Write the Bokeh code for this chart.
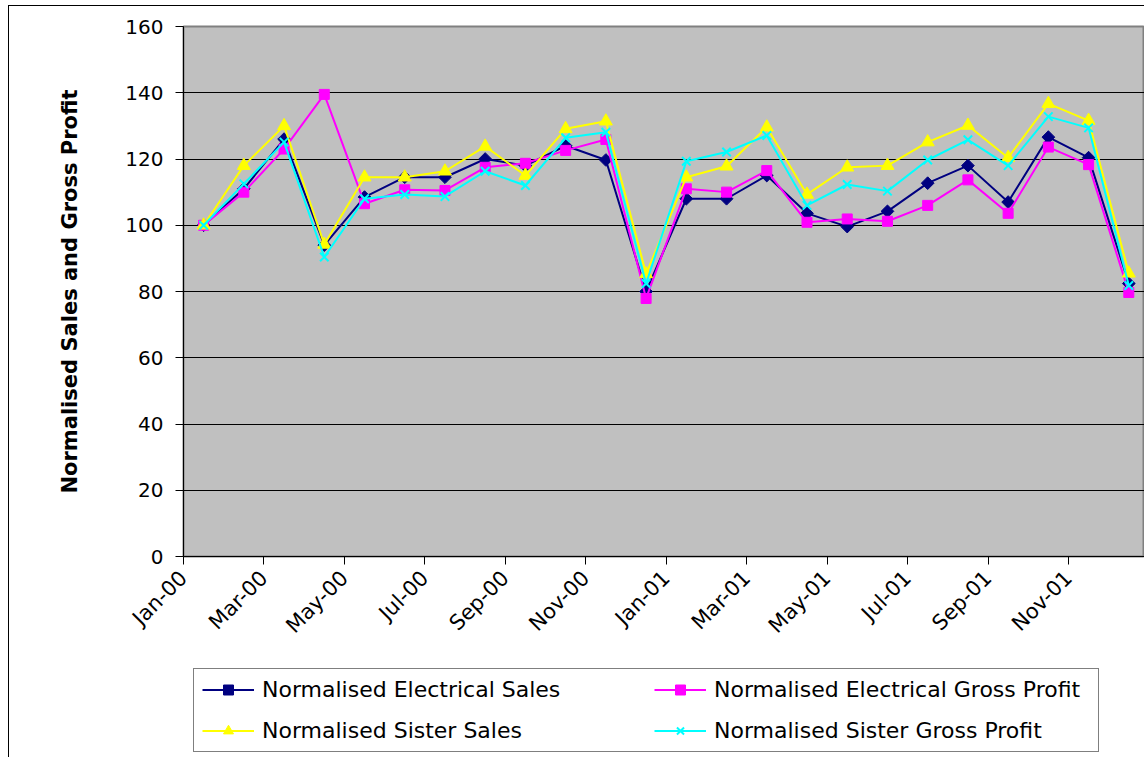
import math
from bokeh.plotting import figure
from bokeh.layouts import column
from bokeh.models import FixedTicker, Legend, LegendItem, Range1d, ColumnDataSource
from bokeh.embed import file_html
from bokeh.resources import INLINE

months = ["Jan-00", "Feb-00", "Mar-00", "Apr-00", "May-00", "Jun-00", "Jul-00", "Aug-00",
          "Sep-00", "Oct-00", "Nov-00", "Dec-00", "Jan-01", "Feb-01", "Mar-01", "Apr-01",
          "May-01", "Jun-01", "Jul-01", "Aug-01", "Sep-01", "Oct-01", "Nov-01", "Dec-01"]

elec_sales = [100, 111, 126, 94, 108.5, 114.5, 114.5, 120, 118, 124, 119.7, 80,
              108, 108, 115, 103.6, 99.6, 104.2, 112.7, 118, 107, 126.6, 120.4, 82.4]
elec_gp = [100, 110, 123, 139.5, 106.5, 110.7, 110.5, 117.5, 118.7, 122.6, 125.9, 77.9,
           111, 110, 116.5, 100.9, 101.9, 101.2, 106, 113.7, 103.6, 123.6, 118.3, 79.7]
sister_sales = [100, 118, 130, 94.2, 114.5, 114.5, 116.3, 123.8, 115, 129.1, 131.4, 85.3,
                114.5, 117.8, 129.6, 109.3, 117.5, 118, 125.1, 130.1, 120.4, 136.7, 131.6, 85.5]
sister_gp = [100, 112.5, 125.1, 90.4, 108, 109.3, 108.7, 116.3, 112, 126.4, 128.1, 82.4,
             119.3, 122.1, 127.1, 106, 112.3, 110.3, 119.7, 125.8, 118, 132.8, 129.4, 81.8]

series_names = ["Normalised Electrical Sales", "Normalised Electrical Gross Profit",
                "Normalised Sister Sales", "Normalised Sister Gross Profit"]

tick_labels = ["Jan-00", "Mar-00", "May-00", "Jul-00", "Sep-00", "Nov-00",
               "Jan-01", "Mar-01", "May-01", "Jul-01", "Sep-01", "Nov-01"]
y_ticks = [0, 20, 40, 60, 80, 100, 120, 140, 160]

FONT = "DejaVu Sans"

# style of each series: (column, colour, marker, size, angle)
styles = [("es", "#000080", "square", 9, math.pi / 4),
          ("egp", "#FF00FF", "square", 10, 0.0),
          ("ss", "#FFFF00", "triangle", 13, 0.0),
          ("sgp", "#00FFFF", "x", 12, 0.0)]

# month i is centred in its slot: x = i + 0.5
xs = [i + 0.5 for i in range(len(months))]
src = ColumnDataSource(dict(x=xs, es=elec_sales, egp=elec_gp, ss=sister_sales, sgp=sister_gp))


def add_series(fig, col, color, marker, size, angle):
    lr = fig.line("x", col, source=src, line_color=color, line_width=2)
    if marker == "x":
        sr = fig.scatter("x", col, source=src, marker=marker, size=size,
                         line_color=color, line_width=2)
    else:
        sr = fig.scatter("x", col, source=src, marker=marker, size=size, angle=angle,
                         fill_color=color, line_color=color)
    return lr, sr


# ---------------- main chart ----------------
p = figure(width=1135, height=655,
           output_backend="svg", toolbar_location=None,
           x_range=Range1d(0, 23.89), y_range=Range1d(0, 160),
           min_border_left=174, min_border_right=0, min_border_top=20, min_border_bottom=105)

p.background_fill_color = "#C0C0C0"
p.border_fill_color = "white"
p.outline_line_color = "#808080"
p.outline_line_width = 2

p.xgrid.visible = False
p.ygrid.ticker = FixedTicker(ticks=[20, 40, 60, 80, 100, 120, 140])
p.ygrid.grid_line_color = "black"
p.ygrid.grid_line_width = 1

p.yaxis.ticker = FixedTicker(ticks=y_ticks)
p.yaxis.axis_line_color = "black"
p.yaxis.major_tick_line_color = "black"
p.yaxis.major_tick_out = 8
p.yaxis.major_tick_in = 0
p.yaxis.minor_tick_line_color = None
p.yaxis.major_label_text_font = FONT
p.yaxis.major_label_text_font_size = "20px"
p.yaxis.major_label_text_color = "black"
p.yaxis.major_label_standoff = 12
p.yaxis.axis_label = "Normalised Sales and Gross Profit"
p.yaxis.axis_label_text_font = FONT
p.yaxis.axis_label_text_font_style = "bold"
p.yaxis.axis_label_text_font_size = "21px"
p.yaxis.axis_label_text_color = "black"
p.yaxis.axis_label_standoff = 40

p.xaxis.ticker = FixedTicker(ticks=[2 * k for k in range(len(tick_labels))])
p.xaxis.major_label_overrides = {2 * k: lab for k, lab in enumerate(tick_labels)}
p.xaxis.axis_line_color = "black"
p.xaxis.major_tick_line_color = "black"
p.xaxis.major_tick_out = 8
p.xaxis.major_tick_in = 0
p.xaxis.minor_tick_line_color = None
p.xaxis.major_label_text_font = FONT
p.xaxis.major_label_text_font_size = "21px"
p.xaxis.major_label_text_color = "black"
p.xaxis.major_label_orientation = math.pi / 4
p.xaxis.major_label_standoff = 10

for st in styles:
    add_series(p, *st)

# ---------------- legend strip ----------------
# same series, drawn out of this strip's view, only to carry the legend
p2 = figure(width=1135, height=96, output_backend="svg", toolbar_location=None,
            x_range=Range1d(0, 1), y_range=Range1d(0, 1),
            x_axis_location=None, y_axis_location=None,
            min_border_left=0, min_border_right=0, min_border_top=0, min_border_bottom=0)
p2.grid.visible = False
p2.outline_line_color = None
p2.background_fill_color = "white"
p2.border_fill_color = "white"

items = []
for name, st in zip(series_names, styles):
    lr, sr = add_series(p2, *st)
    items.append(LegendItem(label=name, renderers=[lr, sr]))

legend = Legend(
    items=items, orientation="horizontal", ncols=2,
    location=(10, 5), padding=8, margin=0, spacing=16,
    glyph_width=52, glyph_height=25, label_height=25, label_width=376, label_standoff=8,
    label_text_font=FONT, label_text_font_size="22px", label_text_color="black",
    border_line_color="black", border_line_width=1, background_fill_color="white",
    background_fill_alpha=1)
p2.add_layout(legend, "center")

layout = column(p, p2, spacing=0, margin=(6, 0, 0, 9),
                styles={"outline": "1px solid black"})

open("out.html", "w").write(file_html(layout, INLINE))
